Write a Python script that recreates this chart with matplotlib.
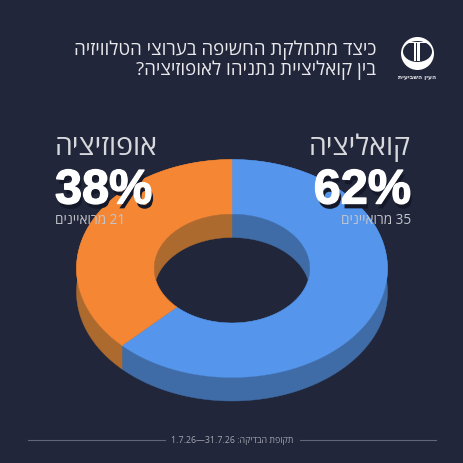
import re
import numpy as np
import matplotlib
matplotlib.use("Agg")
import matplotlib.pyplot as plt
from matplotlib.patches import Ellipse, Polygon, Rectangle
import matplotlib.patheffects as pe

title_lines = ["כיצד מתחלקת החשיפה בערוצי הטלוויזיה", "בין קואליציית נתניהו לאופוזיציה?"]
categories = ["קואליציה", "אופוזיציה"]
respondents = [35, 21]
percent_labels = ["62%", "38%"]
respondent_word = "מרואיינים"
footer_prefix = "תקופת הבדיקה:"
footer_dates = "1.7.26—31.7.26"
logo_text = "העין השביעית"

BG = "#21263a"
TOP = ["#5596ec", "#f58634"]
SIDE = ["#3f6ca6", "#ad6a2e"]
FONT = ["Open Sans", "DejaVu Sans"]
BOLD = ["Liberation Sans"]


def vis(s):
    """Visual order for right-to-left text: matplotlib has no bidi layout."""
    parts = re.findall(r"[0-9.%—]+|[^0-9.%—]+", s)
    return "".join(p if re.fullmatch(r"[0-9.%—]+", p) else p[::-1] for p in parts[::-1])


fig = plt.figure(figsize=(4.64, 4.64), dpi=100, facecolor=BG)
ax = fig.add_axes([0, 0, 1, 1])
ax.set_xlim(0, 464)
ax.set_ylim(464, 0)
ax.axis("off")

cx, cy, rx, ry = 232, 269.5, 155.5, 109
irx, iry = 78, 54.5
depth = 23.5


def pt(theta, a, b, dy=0.0):
    return cx + a * np.sin(theta), cy - b * np.cos(theta) + dy


shares = np.array(respondents, float) / sum(respondents)
edges = np.concatenate([[0], np.cumsum(shares)]) * 2 * np.pi

for i in range(2):
    t = np.linspace(edges[i], edges[i + 1], 300)
    # outer wall
    x, y = pt(t, rx, ry)
    x2, y2 = pt(t[::-1], rx, ry, depth)
    ax.add_patch(Polygon(np.c_[np.r_[x, x2], np.r_[y, y2]], fc=SIDE[i], ec=SIDE[i], lw=0.3, zorder=2))
    # inner wall, seen through the hole
    x, y = pt(t, irx, iry)
    x2, y2 = pt(t[::-1], irx, iry, depth)
    clip = Ellipse((cx, cy), 2 * irx, 2 * iry, transform=ax.transData)
    p = Polygon(np.c_[np.r_[x, x2], np.r_[y, y2]], fc=SIDE[i], ec=SIDE[i], lw=0.3, zorder=3)
    ax.add_patch(p)
    p.set_clip_path(clip)
    # top face
    x, y = pt(t, rx, ry)
    x2, y2 = pt(t[::-1], irx, iry)
    ax.add_patch(Polygon(np.c_[np.r_[x, x2], np.r_[y, y2]], fc=TOP[i], ec=TOP[i], lw=0.3, zorder=4))

# title
for line, y in zip(title_lines, [50, 70]):
    ax.text(376, y, vis(line), ha="right", va="center", color="#e9e9ec", fontsize=13.5,
            family=FONT, zorder=6)

# block labels
label_x = [411, 55]
label_ha = ["right", "left"]
for i in range(2):
    ax.text(label_x[i], 148, vis(categories[i]), ha=label_ha[i], va="center", color="#d8d9dd",
            fontsize=20.5, family=FONT, zorder=6)
    ax.text(label_x[i], 204.5, percent_labels[i], ha=label_ha[i], va="baseline", color="white",
            fontsize=35, fontweight="bold", family=BOLD, zorder=6,
            path_effects=[pe.withSimplePatchShadow(offset=(1.5, -3.5), shadow_rgbFace="#141828", alpha=1),
                          pe.withStroke(linewidth=1.0, foreground="white"),
                          pe.Normal()])
    ax.text(label_x[i], 221, vis(f"{respondents[i]} {respondent_word}"), ha=label_ha[i], va="center",
            color="#c4c5cb", fontsize=9.8, family=FONT, zorder=6)

# footer
ax.plot([28, 165], [441, 441], color="#62667a", lw=0.8, zorder=6)
ax.plot([300, 436], [441, 441], color="#62667a", lw=0.8, zorder=6)
ax.text(232, 441, vis(f"{footer_prefix} {footer_dates}"), ha="center", va="center",
        color="#a3a5ae", fontsize=6.4, family=FONT, zorder=6)

# logo
ax.add_patch(Ellipse((417.5, 54.5), 33, 33, fc="white", ec="none", zorder=6))
ax.add_patch(Ellipse((417.5, 52.5), 29, 21, fc=BG, ec="none", zorder=7))
ax.add_patch(Rectangle((409, 42.5), 18, 1.6, fc="white", ec="none", zorder=8))
ax.add_patch(Rectangle((414.5, 44), 1.1, 18, fc="white", ec="none", zorder=8))
ax.add_patch(Rectangle((417, 44), 3, 18, fc="white", ec="none", zorder=8))
ax.text(417.5, 78, vis(logo_text), ha="center", va="center", color="#e0e0e4", fontsize=4.4,
        fontweight="bold", family=["DejaVu Sans"], zorder=6)

fig.savefig("out.png", dpi=100, facecolor=BG)
